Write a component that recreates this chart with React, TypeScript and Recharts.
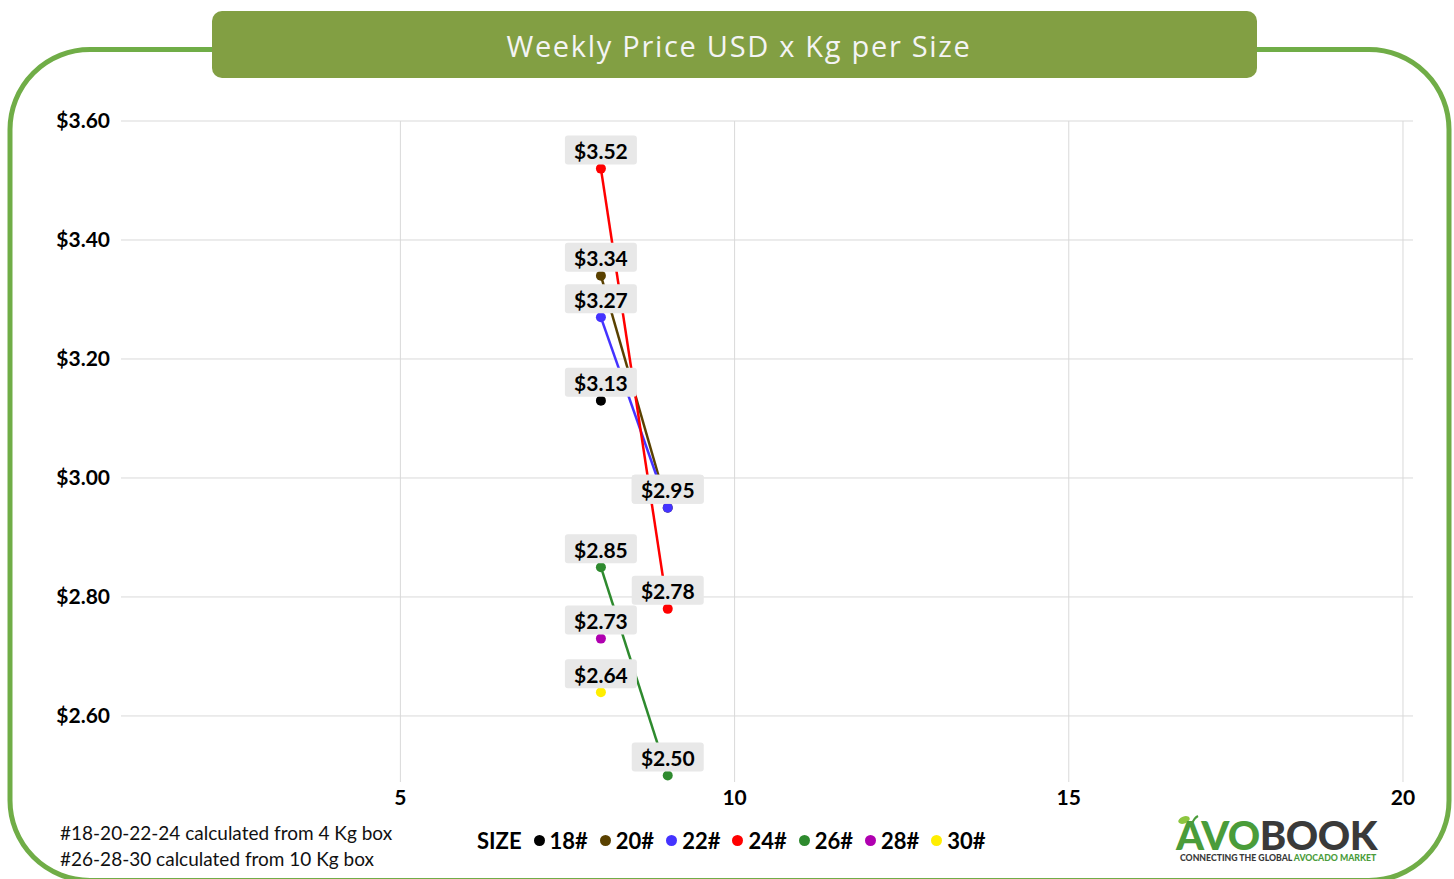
import { ScatterChart, Scatter, XAxis, YAxis, ReferenceLine, LabelList } from "recharts";

const SIZES = ["18#", "20#", "22#", "24#", "26#", "28#", "30#"];
const COLORS = ["#000000", "#5a4100", "#4433ff", "#ff0000", "#2e8a2e", "#b000b0", "#ffee00"];

// x position of each week's reading
const WEEK_X = [8, 9];

const PRICE_18 = [3.13];
const PRICE_20 = [3.34, 2.95];
const PRICE_22 = [3.27, 2.95];
const PRICE_24 = [3.52, 2.78];
const PRICE_26 = [2.85, 2.5];
const PRICE_28 = [2.73];
const PRICE_30 = [2.64];

const X_TICKS = [5, 10, 15, 20];
const Y_TICKS = [2.6, 2.8, 3.0, 3.2, 3.4, 3.6];

const PRICES = [PRICE_18, PRICE_20, PRICE_22, PRICE_24, PRICE_26, PRICE_28, PRICE_30];

const series = SIZES.map((name, i) => ({
  name,
  color: COLORS[i],
  data: PRICES[i].map((y, j) => ({ x: WEEK_X[j], y })),
}));

const money = (v: number) => `$${v.toFixed(2)}`;

const FONT = "Lato, 'Open Sans', sans-serif";
const GRID = "#d9d9d9";

const PriceLabel = (props: any) => {
  const vb = props.viewBox || {};
  const x = props.x ?? vb.x;
  const y = props.y ?? vb.y;
  const w = props.width ?? vb.width ?? 0;
  const h = props.height ?? vb.height ?? 0;
  if (x == null || y == null) return null;
  const cx = x + w / 2;
  const cy = y + h / 2;
  return (
    <g>
      <rect x={cx - 36} y={cy - 33} width={72} height={29} rx={3} fill="#e8e8e8" />
      <text
        x={cx}
        y={cy - 18}
        textAnchor="middle"
        dominantBaseline="central"
        fontSize={21}
        fontWeight={700}
        fontFamily={FONT}
        fill="#000"
      >
        {money(Number(props.value))}
      </text>
    </g>
  );
};

const dot = (color: string) => (props: any) =>
  <circle cx={props.cx} cy={props.cy} r={5} fill={color} />;

export default function App() {
  return (
    <div style={{ position: "absolute", left: 0, top: 0, width: 1454, height: 879, overflow: "hidden", background: "#fff", fontFamily: FONT }}>
      {/* frame + title */}
      <svg width={1454} height={879} style={{ position: "absolute", left: 0, top: 0 }}>
        <rect x={10} y={49.5} width={1439} height={831} rx={80} fill="none" stroke="#70ad47" strokeWidth={5} />
        <rect x={212} y={11} width={1045} height={67} rx={10} fill="#829f43" />
        <text
          x={739}
          y={45}
          textAnchor="middle"
          dominantBaseline="central"
          fontSize={29}
          fontFamily="'Open Sans', sans-serif"
          letterSpacing={1.7}
          fill="#f4f4f4"
        >
          Weekly Price USD x Kg per Size
        </text>
      </svg>

      <div style={{ position: "absolute", left: 0, top: 0 }}>
        <ScatterChart width={1454} height={879} margin={{ top: 121, right: 41, bottom: 67, left: 61 }}>
          <XAxis
            type="number"
            dataKey="x"
            domain={[0.82, 20.15]}
            ticks={X_TICKS}
            axisLine={false}
            tickLine={false}
            height={30}
            tickMargin={2}
            allowDataOverflow
            tick={{ fontSize: 21, fontWeight: 700, fill: "#000", fontFamily: FONT }}
          />
          <YAxis
            type="number"
            dataKey="y"
            domain={[2.489, 3.6]}
            ticks={Y_TICKS}
            axisLine={false}
            tickLine={false}
            width={60}
            tickMargin={5}
            allowDataOverflow
            tickFormatter={money}
            tick={{ fontSize: 21, fontWeight: 700, fill: "#000", fontFamily: FONT }}
          />
          {/* gridlines only at the tick values, no border */}
          {X_TICKS.map((t) => (
            <ReferenceLine key={`gx-${t}`} x={t} stroke={GRID} strokeWidth={1} />
          ))}
          {Y_TICKS.map((t) => (
            <ReferenceLine key={`gy-${t}`} y={t} stroke={GRID} strokeWidth={1} />
          ))}
          {/* labels first so the lines sit on top of them */}
          {series.map((s) => (
            <Scatter key={`lbl-${s.name}`} data={s.data} shape={() => <g />} isAnimationActive={false}>
              <LabelList dataKey="y" content={PriceLabel} />
            </Scatter>
          ))}
          {series.map((s) => (
            <Scatter
              key={s.name}
              name={s.name}
              data={s.data}
              fill={s.color}
              line={s.data.length > 1 ? { stroke: s.color, strokeWidth: 2.5 } : false}
              lineType="joint"
              shape={dot(s.color)}
              isAnimationActive={false}
            />
          ))}
        </ScatterChart>
      </div>

      {/* legend */}
      <div style={{ position: "absolute", left: 477, top: 827, display: "flex", alignItems: "center", fontSize: 22, fontWeight: 700, color: "#000", whiteSpace: "nowrap" }}>
        <span style={{ marginRight: 12 }}>SIZE</span>
        {series.map((s) => (
          <span key={s.name} style={{ display: "flex", alignItems: "center", marginRight: 12 }}>
            <span style={{ width: 11, height: 11, borderRadius: "50%", background: s.color, display: "inline-block", marginRight: 5 }} />
            {s.name}
          </span>
        ))}
      </div>

      {/* footnote */}
      <div style={{ position: "absolute", left: 60, top: 820, fontSize: 19, lineHeight: "26px", color: "#111" }}>
        <div>#18-20-22-24 calculated from 4 Kg box</div>
        <div>#26-28-30 calculated from 10 Kg box</div>
      </div>

      {/* logo */}
      <svg width={230} height={62} style={{ position: "absolute", left: 1170, top: 808 }}>
        <ellipse cx={14} cy={12} rx={6} ry={3.5} transform="rotate(-20 14 12)" fill="#8dc63f" />
        <path d="M22 16 Q24 10 28 8" stroke="#4a9c3a" strokeWidth={2} fill="none" />
        <text x={6} y={42} fontSize={40} fontWeight={900} fontFamily={FONT} letterSpacing={-0.5}>
          <tspan fill="#4a9c3a">AVO</tspan>
          <tspan fill="#3a3a3a">BOOK</tspan>
        </text>
        <text x={10} y={53} fontSize={8.7} fontWeight={900} fontFamily={FONT}>
          <tspan fill="#3a3a3a">CONNECTING THE GLOBAL </tspan>
          <tspan fill="#4a9c3a">AVOCADO MARKET</tspan>
        </text>
      </svg>
    </div>
  );
}
